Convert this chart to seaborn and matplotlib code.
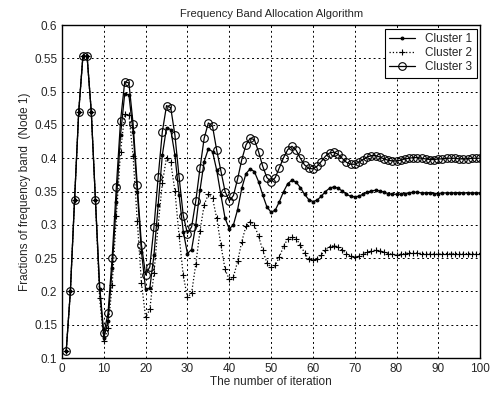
import matplotlib
matplotlib.use("Agg")
import matplotlib.pyplot as plt
import numpy as np
import pandas as pd
import seaborn as sns

iterations = list(range(1, 101))

cluster1 = [
    0.110, 0.200, 0.337, 0.470, 0.553, 0.553, 0.470, 0.337, 0.203, 0.130,
    0.155, 0.235, 0.335, 0.435, 0.497, 0.495, 0.440, 0.350, 0.260, 0.203,
    0.205, 0.255, 0.330, 0.405, 0.446, 0.443, 0.405, 0.345, 0.290, 0.257,
    0.263, 0.300, 0.352, 0.395, 0.414, 0.410, 0.382, 0.345, 0.310, 0.294,
    0.300, 0.323, 0.355, 0.377, 0.384, 0.380, 0.365, 0.345, 0.327, 0.319,
    0.322, 0.335, 0.350, 0.362, 0.367, 0.364, 0.356, 0.346, 0.338, 0.335,
    0.337, 0.343, 0.350, 0.355, 0.357, 0.355, 0.351, 0.346, 0.343, 0.342,
    0.343, 0.346, 0.349, 0.351, 0.352, 0.351, 0.349, 0.347, 0.346, 0.346,
    0.346, 0.347, 0.348, 0.349, 0.349, 0.348, 0.348, 0.348, 0.347, 0.347,
    0.348, 0.348, 0.348, 0.348, 0.348, 0.348, 0.348, 0.348, 0.348, 0.348,
]

cluster2 = [
    0.110, 0.200, 0.337, 0.470, 0.553, 0.553, 0.470, 0.337, 0.190, 0.125,
    0.145, 0.210, 0.313, 0.410, 0.466, 0.465, 0.403, 0.306, 0.213, 0.161,
    0.173, 0.228, 0.300, 0.363, 0.401, 0.394, 0.351, 0.284, 0.224, 0.191,
    0.198, 0.241, 0.291, 0.330, 0.346, 0.340, 0.310, 0.270, 0.233, 0.218,
    0.222, 0.245, 0.275, 0.298, 0.305, 0.300, 0.283, 0.262, 0.243, 0.236,
    0.239, 0.252, 0.268, 0.279, 0.282, 0.279, 0.270, 0.258, 0.249, 0.247,
    0.249, 0.255, 0.262, 0.267, 0.269, 0.267, 0.262, 0.257, 0.253, 0.252,
    0.253, 0.256, 0.259, 0.261, 0.262, 0.261, 0.259, 0.257, 0.256, 0.255,
    0.256, 0.257, 0.258, 0.258, 0.258, 0.257, 0.257, 0.257, 0.256, 0.256,
    0.257, 0.257, 0.257, 0.257, 0.257, 0.257, 0.257, 0.257, 0.257, 0.257,
]

cluster3 = [
    0.110, 0.200, 0.337, 0.470, 0.553, 0.553, 0.470, 0.337, 0.208, 0.137,
    0.167, 0.251, 0.357, 0.456, 0.515, 0.513, 0.452, 0.360, 0.270, 0.225,
    0.237, 0.297, 0.372, 0.440, 0.479, 0.476, 0.435, 0.372, 0.314, 0.287,
    0.297, 0.336, 0.385, 0.430, 0.453, 0.448, 0.412, 0.381, 0.350, 0.336,
    0.344, 0.369, 0.398, 0.420, 0.430, 0.428, 0.410, 0.388, 0.371, 0.365,
    0.371, 0.386, 0.401, 0.413, 0.418, 0.412, 0.400, 0.390, 0.385, 0.384,
    0.388, 0.395, 0.403, 0.408, 0.409, 0.406, 0.400, 0.394, 0.391, 0.391,
    0.394, 0.398, 0.402, 0.404, 0.404, 0.402, 0.399, 0.397, 0.396, 0.396,
    0.397, 0.399, 0.400, 0.401, 0.401, 0.400, 0.399, 0.398, 0.398, 0.399,
    0.399, 0.400, 0.400, 0.400, 0.399, 0.399, 0.399, 0.400, 0.400, 0.400,
]

df = pd.DataFrame({
    "iteration": iterations * 3,
    "fraction": cluster1 + cluster2 + cluster3,
    "cluster": ["Cluster 1"] * 100 + ["Cluster 2"] * 100 + ["Cluster 3"] * 100,
})

sns.set_style("white")
plt.rcParams["font.family"] = ["Liberation Sans", "DejaVu Sans"]

fig = plt.figure(figsize=(4.96, 3.97), dpi=100)
ax = fig.add_axes([0.125, 0.098, 0.843, 0.839])

# matlab-like line styles: '.-', '+:', 'o-'
styles = {
    "Cluster 1": dict(ls="-", marker=".", ms=4, mfc="black", mew=0.8),
    "Cluster 2": dict(ls=":", marker="+", ms=5, mfc="black", mew=0.8),
    "Cluster 3": dict(ls="-", marker="o", ms=5.5, mfc="none", mew=0.8),
}
for name, st in styles.items():
    sub = df[df["cluster"] == name]
    sns.lineplot(data=sub, x="iteration", y="fraction", ax=ax, color="black",
                 linewidth=0.9, legend=False)
    line = ax.lines[-1]
    line.set_linestyle(st["ls"])
    line.set_marker(st["marker"])
    line.set_markersize(st["ms"])
    line.set_markerfacecolor(st["mfc"])
    line.set_markeredgecolor("black")
    line.set_markeredgewidth(st["mew"])
    line.set_label(name)

ax.set_xlim(0, 100)
ax.set_ylim(0.1, 0.6)
ax.set_xticks(np.arange(0, 101, 10))
ax.set_yticks(np.arange(0.1, 0.61, 0.05))
ax.set_yticklabels(["0.1", "0.15", "0.2", "0.25", "0.3", "0.35", "0.4",
                    "0.45", "0.5", "0.55", "0.6"])
ax.grid(True, linestyle=(0, (2, 3)), color="black", linewidth=0.7)
for s in ax.spines.values():
    s.set_color("black")
    s.set_linewidth(1.0)
ax.tick_params(labelsize=8.5, length=3, direction="in", color="black")

ax.set_title("Frequency Band Allocation Algorithm", fontsize=8)
ax.set_xlabel("The number of iteration", fontsize=8.5, labelpad=1)
ax.set_ylabel("Fractions of frequency band  (Node 1)", fontsize=8.5, labelpad=2)

leg = ax.legend(handles=ax.lines[:3], loc="upper right", fontsize=8.5,
                fancybox=False, framealpha=1, edgecolor="black",
                borderaxespad=0.3, handlelength=2.2, labelspacing=0.15)
leg.get_frame().set_linewidth(0.8)

fig.savefig("out.png", dpi=100)
